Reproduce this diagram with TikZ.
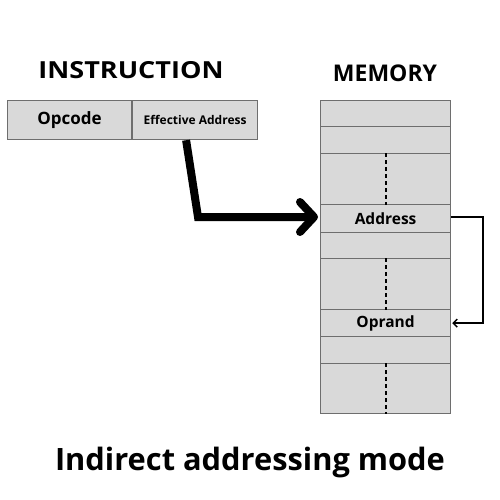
\documentclass[tikz,border=0pt]{standalone}
\usepackage{fontspec}
\setmainfont{Open Sans}
\usetikzlibrary{arrows.meta}
\definecolor{cellfill}{HTML}{D9D9D9}
\definecolor{cellline}{HTML}{6E6E6E}
\tikzset{
  cell/.style={draw=cellline, fill=cellfill, line width=1.2pt, inner sep=0pt, anchor=north west, minimum width=130pt},
  ibox/.style={draw=cellline, fill=cellfill, line width=1.2pt, inner sep=0pt, anchor=north west, minimum width=124pt, minimum height=39pt},
  title/.style={font=\bfseries\fontsize{23}{26}\selectfont},
  dots/.style={line width=2pt, dash pattern=on 4pt off 3pt},
  bigarrow/.style={line width=8pt, line join=miter, -{Straight Barb[length=14pt, width=30pt, line cap=round, line join=round]}},
  thinarrow/.style={line width=1.5pt, -{Straight Barb[length=4pt, width=8pt]}}
}
\begin{document}
\begin{tikzpicture}[x=1pt, y=-1pt]
\useasboundingbox[fill=white] (0,0) rectangle (500,500);
\node[title, font=\addfontfeature{FakeStretch=1.15}\bfseries\fontsize{23.5}{26}\selectfont] (ti) at (131,70) {INSTRUCTION};
\node[title] (tm) at (385,73) {MEMORY};
\node[ibox] (op) at (7,100) {};
\node[font=\bfseries\fontsize{17}{19}\selectfont] (opt) at (op.center) {Opcode};
\node[ibox, minimum width=125pt] (ea) at (132,100) {};
\node[font=\bfseries\fontsize{12}{14}\selectfont] (eat) at (ea.center) {Effective Address};
% memory
\node[cell, minimum height=26pt] (m1) at (320,100) {};
\node[cell, minimum height=27pt] (m2) at (320,126) {};
\node[cell, minimum height=51pt] (m3) at (320,153) {};
\node[cell, minimum height=28pt] (m4) at (320,204) {};
\node[font=\bfseries\fontsize{15.5}{17}\selectfont] (addr) at (m4.center) {Address};
\node[cell, minimum height=26pt] (m5) at (320,232) {};
\node[cell, minimum height=51pt] (m6) at (320,258) {};
\node[cell, minimum height=27pt] (m7) at (320,309) {};
\node[font=\bfseries\fontsize{15.5}{17}\selectfont] (opr) at (m7.center) {Oprand};
\node[cell, minimum height=27pt] (m8) at (320,336) {};
\node[cell, minimum height=50pt] (m9) at (320,363) {};
\draw[dots] (m3.north) -- (m3.south);
\draw[dots] (m6.north) -- (m6.south);
\draw[dots] (m9.north) -- (m9.south);
% arrows
\coordinate (bend) at (198,217);
\draw[bigarrow] ([xshift=-9pt]ea.south) -- (bend) -- ([xshift=-2pt]m4.west |- bend);
\coordinate (rt) at (483,217);
\draw[thinarrow] (m4.east |- rt) -- (rt) |- ([xshift=1pt]m7.east);
\node[font=\bfseries\fontsize{30.8}{34}\selectfont] (bt) at (250,462) {Indirect addressing mode};
\end{tikzpicture}
\end{document}
